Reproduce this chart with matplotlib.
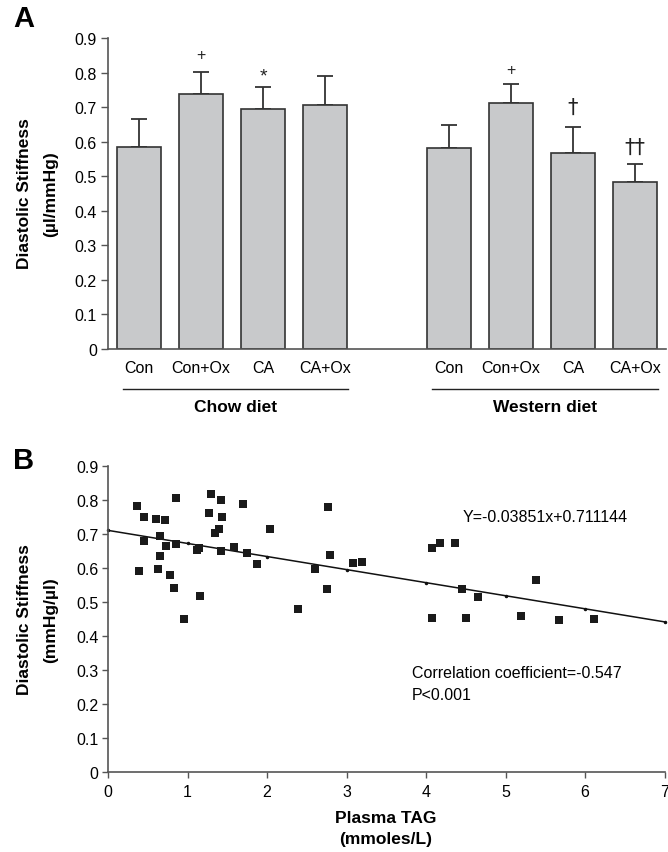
import matplotlib
matplotlib.use("Agg")
import matplotlib.pyplot as plt
import matplotlib.transforms as mtransforms

plt.rcParams["font.family"] = ["Liberation Sans", "DejaVu Sans"]

# ---- panel A data ----
groups = ["Chow diet", "Western diet"]
bar_labels = ["Con", "Con+Ox", "CA", "CA+Ox", "Con", "Con+Ox", "CA", "CA+Ox"]
chow_means = [0.586, 0.738, 0.696, 0.707]
chow_err = [0.080, 0.064, 0.064, 0.084]
western_means = [0.582, 0.712, 0.568, 0.484]
western_err = [0.068, 0.055, 0.075, 0.053]
sig_marks = ["", "+", "*", "", "", "+", "\u2020", "\u2020\u2020"]
sig_y = [None, 0.852, 0.800, None, None, 0.809, 0.700, 0.585]

# ---- panel B data ----
tag = [0.37, 0.45, 0.60, 0.72, 0.86, 1.29, 1.42, 1.70, 1.27, 1.44, 1.40, 1.34,
       2.04, 2.77, 0.45, 0.65, 0.73, 0.86, 1.12, 1.14, 1.42, 1.58, 1.75, 1.88,
       0.65, 0.39, 0.63, 0.78, 0.83, 1.16, 0.95, 2.79, 2.60, 2.75, 2.39, 3.08,
       3.19, 4.08, 4.18, 4.36, 4.45, 4.66, 5.38, 4.08, 4.50, 5.19, 5.67, 6.11]
stiff = [0.784, 0.750, 0.746, 0.742, 0.807, 0.818, 0.800, 0.788, 0.762, 0.750,
         0.715, 0.703, 0.715, 0.780, 0.681, 0.696, 0.665, 0.672, 0.654, 0.658,
         0.650, 0.662, 0.645, 0.611, 0.635, 0.592, 0.596, 0.581, 0.541, 0.519,
         0.450, 0.639, 0.596, 0.538, 0.480, 0.614, 0.618, 0.659, 0.674, 0.674,
         0.539, 0.516, 0.565, 0.453, 0.453, 0.458, 0.446, 0.449]
slope = -0.03851
intercept = 0.711144
fit_x = [0, 1, 2, 3, 4, 5, 6, 7]

EDGE = "#333333"
AXC = "#555555"
TICK_FS = 11.5

fig = plt.figure(figsize=(6.68, 8.53), dpi=100)
fig.patch.set_facecolor("white")

# ================= Panel A =================
axA = fig.add_axes([0.1617, 0.5897, 0.8353, 0.3642])
pos = [0, 1, 2, 3, 5, 6, 7, 8]
means = chow_means + western_means
errs = chow_err + western_err
axA.bar(pos, means, width=0.71, color="#c8c9cb", edgecolor=EDGE, linewidth=1.2, zorder=2)
axA.errorbar(pos, means, yerr=[[0] * len(errs), errs], fmt="none", ecolor=EDGE,
             elinewidth=1.3, capsize=5.5, capthick=1.3, zorder=1)
for p, m, yy in zip(pos, sig_marks, sig_y):
    if not m:
        continue
    if "\u2020" in m:
        axA.text(p, yy, m, ha="center", va="center", fontsize=15, color="#222222",
                 family=["DejaVu Sans"])
    elif m == "*":
        axA.text(p, yy - 0.008, m, ha="center", va="center", fontsize=14, color="#222222")
    else:
        axA.text(p, yy, m, ha="center", va="center", fontsize=11.5, color="#222222")

axA.set_xlim(-0.5, 8.5)
axA.set_ylim(0, 0.9)
yt = [0, 0.1, 0.2, 0.3, 0.4, 0.5, 0.6, 0.7, 0.8, 0.9]
axA.set_yticks(yt)
axA.set_yticklabels(["0"] + [f"{v:.1f}" for v in yt[1:]])
axA.set_xticks(pos)
axA.set_xticklabels(bar_labels)
axA.tick_params(axis="x", length=0, pad=8, labelsize=11.5)
axA.tick_params(axis="y", direction="out", length=5, width=1, color=AXC, labelsize=TICK_FS, pad=3)
for s in ["top", "right"]:
    axA.spines[s].set_visible(False)
for s in ["left", "bottom"]:
    axA.spines[s].set_color(AXC)
    axA.spines[s].set_linewidth(1.2)

trA = mtransforms.blended_transform_factory(axA.transData, axA.transAxes)
for (x0, x1), g in zip([(-0.26, 3.37), (4.73, 8.37)], groups):
    axA.plot([x0, x1], [-0.129, -0.129], color="#222222", lw=1.0, transform=trA, clip_on=False)
    axA.text((x0 + x1) / 2, -0.184, g, transform=trA, ha="center", va="center",
             fontsize=12.5, fontweight="bold")

fig.text(25 / 668, 1 - 194 / 853, "Diastolic Stiffness", rotation=90, ha="center", va="center",
         fontsize=12.5, fontweight="bold")
fig.text(51 / 668, 1 - 194 / 853, "(\u00b5l/mmHg)", rotation=90, ha="center", va="center",
         fontsize=12.5, fontweight="bold")
fig.text(24 / 668, 1 - 19 / 853, "A", ha="center", va="center", fontsize=21, fontweight="bold")

# ================= Panel B =================
axB = fig.add_axes([0.1617, 0.0941, 0.8331, 0.3581])
axB.scatter(tag, stiff, marker="s", s=32, color="#1a1a1a", zorder=3, linewidths=0)
axB.plot(fit_x, [slope * v + intercept for v in fit_x], color="#111111", lw=1.1,
         marker=".", markersize=3, zorder=2, clip_on=False)
axB.set_xlim(0, 7)
axB.set_ylim(0, 0.9)
axB.set_xticks(range(8))
axB.set_yticks(yt)
axB.set_yticklabels(["0"] + [f"{v:.1f}" for v in yt[1:]])
axB.tick_params(direction="out", length=4, width=1, color=AXC, labelsize=TICK_FS, pad=3)
axB.tick_params(axis="x", pad=5)
for s in ["top", "right"]:
    axB.spines[s].set_visible(False)
for s in ["left", "bottom"]:
    axB.spines[s].set_color(AXC)
    axB.spines[s].set_linewidth(1.2)

axB.text(4.455, 0.753, "Y=-0.03851x+0.711144", ha="left", va="center", fontsize=11.5)
axB.text(3.82, 0.291, "Correlation coefficient=-0.547", ha="left", va="center", fontsize=11.5)
axB.text(3.82, 0.229, "P<0.001", ha="left", va="center", fontsize=11.5)

fig.text(25 / 668, 1 - 620 / 853, "Diastolic Stiffness", rotation=90, ha="center", va="center",
         fontsize=12.5, fontweight="bold")
fig.text(51 / 668, 1 - 620 / 853, "(mmHg/\u00b5l)", rotation=90, ha="center", va="center",
         fontsize=12.5, fontweight="bold")
fig.text(386 / 668, 1 - 819 / 853, "Plasma TAG", ha="center", va="center",
         fontsize=12.5, fontweight="bold")
fig.text(386 / 668, 1 - 840 / 853, "(mmoles/L)", ha="center", va="center",
         fontsize=12.5, fontweight="bold")
fig.text(24 / 668, 1 - 461 / 853, "B", ha="center", va="center", fontsize=21, fontweight="bold")

fig.savefig("out.png", dpi=100, facecolor="white")
